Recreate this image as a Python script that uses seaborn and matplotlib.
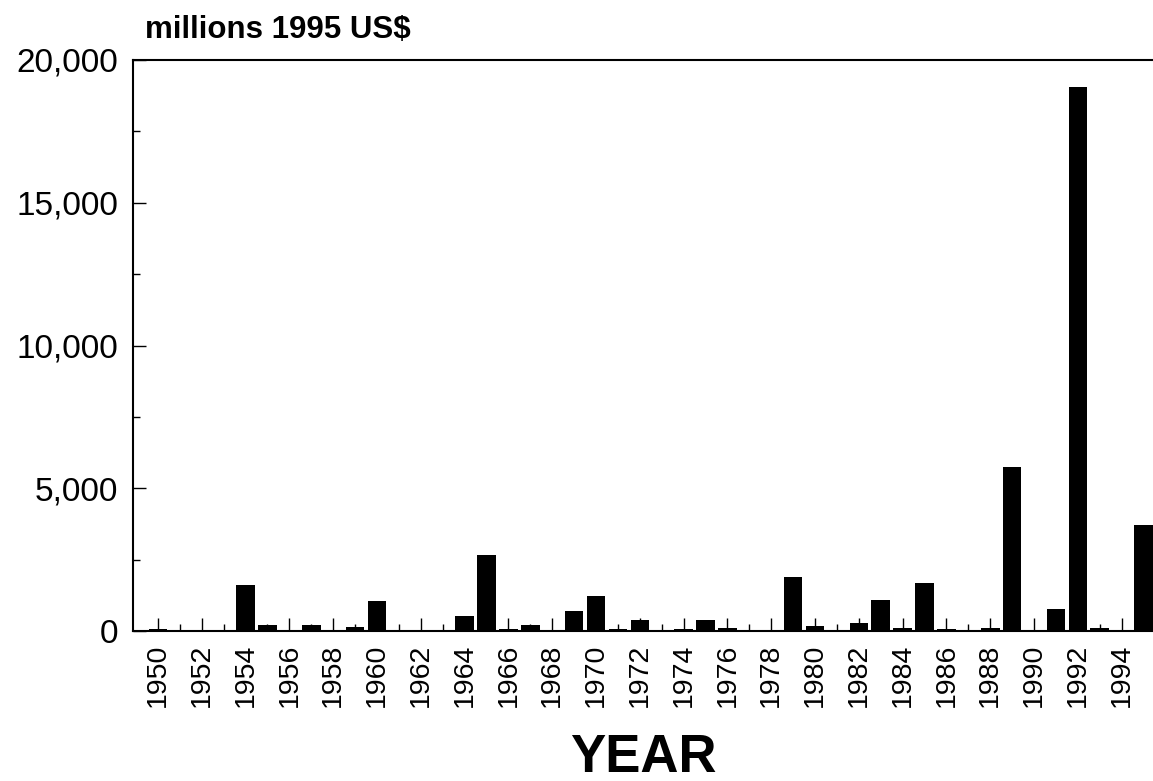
import matplotlib
matplotlib.use("Agg")
import matplotlib.pyplot as plt
import seaborn as sns

# Annual values, millions 1995 US$
years = list(range(1950, 1996))
values = [
    70, 15, 20, 30, 1610, 200, 20, 210, 40, 150,
    1040, 20, 10, 20, 530, 2660, 60, 200, 50, 715,
    1215, 85, 385, 30, 70, 375, 90, 20, 20, 1880,
    165, 20, 280, 1100, 120, 1690, 80, 30, 110, 5730,
    30, 780, 19050, 90, 30, 3730,
]
y_major = [0, 5000, 10000, 15000, 20000]
y_minor = [2500, 7500, 12500, 17500]
y_labels = ["0", "5,000", "10,000", "15,000", "20,000"]

sns.set_style("ticks")
plt.rcParams['font.family'] = ['Liberation Sans', 'DejaVu Sans']
plt.rcParams['text.color'] = 'black'
plt.rcParams['xtick.color'] = 'black'
plt.rcParams['ytick.color'] = 'black'

fig = plt.figure(figsize=(11.53, 7.81), dpi=100)
ax = fig.add_axes([133 / 1153, 150 / 781, 1020 / 1153, 571 / 781])

sns.barplot(x=years, y=values, native_scale=True, color="black",
            width=0.85, saturation=1, edgecolor="black", linewidth=0, ax=ax)

ax.set_xlim(1948.86, 1995.43)
ax.set_ylim(0, 20000)

ax.set_xticks(years[::2])
ax.set_xticklabels([str(y) for y in years[::2]], rotation=90, fontsize=20.5)
ax.set_xticks(years[1::2], minor=True)
ax.set_yticks(y_major)
ax.set_yticklabels(y_labels, fontsize=24)
ax.set_yticks(y_minor, minor=True)

ax.tick_params(which="major", direction="in", length=9.5, width=1, color="black")
ax.tick_params(which="minor", direction="in", length=4.8, width=1, color="black")
ax.tick_params(axis="y", which="major", pad=10.5)
ax.tick_params(axis="x", which="major", pad=9)

for side in ["left", "bottom", "top"]:
    ax.spines[side].set_linewidth(1.5)
    ax.spines[side].set_color("black")
ax.spines["right"].set_visible(False)

ax.set_xlabel("")
ax.set_ylabel("")

fig.text(145 / 1153, 1 - 30 / 781, "millions 1995 US$", fontsize=22.5,
         fontweight="bold", ha="left", va="center")
fig.text(643 / 1153, 1 - 758 / 781, "YEAR", fontsize=38,
         fontweight="bold", ha="center", va="center")

fig.savefig("out.png", dpi=100)
